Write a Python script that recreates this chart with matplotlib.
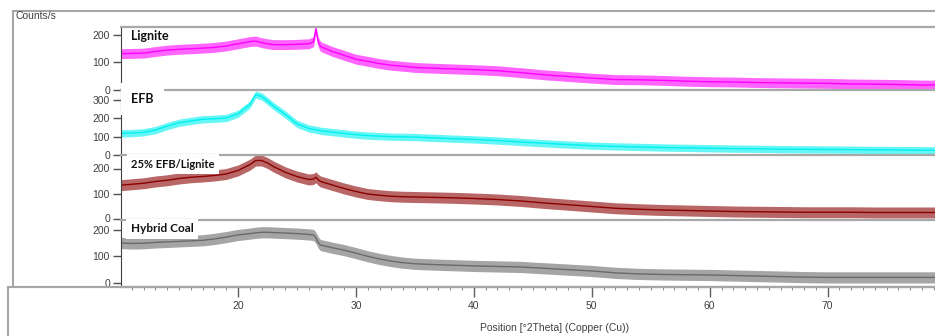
import matplotlib
matplotlib.use("Agg")
import matplotlib.pyplot as plt
from matplotlib.patches import Rectangle

# diffraction angle (deg 2theta), shared by all four patterns
two_theta = [10, 11, 12, 13, 14, 15, 16, 17, 18, 19, 20, 21, 21.5, 22, 22.5, 23, 24, 25, 26,
             26.4, 26.6, 26.8, 27, 28, 29, 30, 31, 32, 33, 34, 35, 36, 38, 40, 42, 44, 46, 48,
             50, 52, 54, 56, 58, 60, 62, 64, 66, 68, 70, 72, 74, 76, 78, 80]

# counts/s (middle of the noisy trace)
lignite = [132, 133, 134, 140, 145, 148, 150, 152, 155, 160, 168, 176, 178, 172, 168, 165, 165, 166, 168,
           175, 222, 175, 158, 140, 126, 112, 104, 96, 90, 86, 82, 80, 77, 74, 70, 63, 55, 49,
           43, 38, 37, 35, 32, 30, 29, 27, 26, 25, 24, 22, 21, 20, 18, 18]
efb = [118, 120, 124, 136, 158, 176, 186, 195, 198, 202, 225, 275, 330, 320, 295, 268, 222, 170, 145,
       140, 138, 135, 132, 125, 118, 111, 106, 103, 100, 99, 98, 95, 90, 85, 79, 71, 64, 57,
       51, 47, 44, 41, 39, 37, 35, 34, 32, 31, 30, 29, 28, 27, 26, 25]
blend25 = [133, 137, 141, 148, 153, 160, 165, 168, 172, 178, 192, 215, 232, 232, 222, 208, 185, 168, 156,
           158, 165, 155, 148, 134, 120, 108, 98, 93, 89, 87, 86, 85, 83, 80, 76, 70, 62, 55,
           48, 41, 37, 34, 32, 30, 28, 27, 26, 25, 25, 25, 24, 24, 24, 24]
hybrid = [150, 148, 149, 152, 154, 156, 158, 160, 165, 172, 180, 185, 188, 190, 190, 189, 187, 185, 182,
          180, 170, 152, 142, 132, 123, 112, 100, 90, 82, 76, 72, 70, 67, 64, 62, 60, 55, 50,
          45, 38, 34, 32, 31, 30, 28, 26, 24, 22, 21, 21, 21, 21, 21, 21]

# half thickness of the noise band (counts/s), per pattern
spread = [18, 20, 22, 21]

names = ["Lignite", "EFB", "25% EFB/Lignite", "Hybrid Coal"]
colors = ["#ff00ff", "#00f0f0", "#8b0000", "#6a6a6a"]
ylims = [(0, 229), (0, 355), (-6, 254), (-15, 236)]
yticks = [[0, 100, 200], [0, 100, 200, 300], [0, 100, 200], [0, 100, 200]]
xticks = [20, 30, 40, 50, 60, 70]

W, H = 935, 336
fig = plt.figure(figsize=(W / 100, H / 100), dpi=100)

def rect(x0, y0, x1, y1):
    return [x0 / W, 1 - y1 / H, (x1 - x0) / W, (y1 - y0) / H]

# outer frames
fig.add_artist(Rectangle((13 / W, 1 - 287 / H), (W + 5 - 13) / W, 276 / H, transform=fig.transFigure,
                         fill=False, ec="#a6a6a6", lw=1.5))
fig.add_artist(Rectangle((8 / W, -0.05), (W + 5 - 8) / W, (336 - 287) / H + 0.05, transform=fig.transFigure,
                         fill=False, ec="#a6a6a6", lw=1.5))
fig.text(16 / W, 1 - 16 / H, "Counts/s", fontsize=7.5, color="#404040", family="Liberation Sans", va="center")

bounds = [(27, 90), (90, 155), (155, 220), (220, 287)]
series = [lignite, efb, blend25, hybrid]
label_pad = [0, 0.8, 0.4, 0.4]
label_size = [9, 9, 8, 8.5]

for i in range(4):
    ax = fig.add_axes(rect(121, bounds[i][0], W, bounds[i][1]))
    y = series[i]
    lo = [v - spread[i] for v in y]
    hi = [v + spread[i] for v in y]
    ax.fill_between(two_theta, lo, hi, color=colors[i], alpha=0.6, lw=0)
    ax.plot(two_theta, y, color=colors[i], lw=1.0)
    ax.set_xlim(10.08, 79.1)
    ax.set_ylim(*ylims[i])
    ax.set_yticks(yticks[i])
    ax.tick_params(axis="y", direction="out", length=6, width=1, color="#505050",
                   labelsize=7.5, labelcolor="#404040", pad=2)
    for t in ax.get_yticklabels():
        t.set_family("Liberation Sans")
    ax.spines["right"].set_visible(False)
    ax.spines["left"].set_color("#404040")
    ax.spines["top"].set_color("#a8a8a8")
    ax.spines["top"].set_linewidth(1.6)
    if i < 3:
        ax.spines["bottom"].set_visible(False)
        ax.set_xticks([])
    else:
        ax.spines["bottom"].set_color("#a8a8a8")
        ax.spines["bottom"].set_linewidth(1.6)
        ax.set_xticks(xticks)
        ax.set_xticks(range(11, 80), minor=True)
        ax.tick_params(axis="x", which="major", direction="out", length=7, width=1, color="#606060",
                       labelsize=7.5, labelcolor="#404040", pad=3)
        ax.tick_params(axis="x", which="minor", direction="out", length=2.5, width=0.8, color="#909090")
        for t in ax.get_xticklabels():
            t.set_family("Liberation Sans")
    ax.patch.set_alpha(0)
    box = None
    if label_pad[i] > 0:
        box = dict(boxstyle="square,pad=%.1f" % label_pad[i], fc="white", ec="none")
    ax.text(10 / (W - 121), 1 - 9 / (bounds[i][1] - bounds[i][0]), names[i], transform=ax.transAxes,
            fontsize=label_size[i], fontweight="bold", family="Lato", color="#111111",
            va="center", ha="left", zorder=5, bbox=box)

fig.text(555 / W, 1 - 328 / H, "Position [\u00b02Theta] (Copper (Cu))", fontsize=7.5, color="#404040",
         family="Liberation Sans", ha="center", va="center")

fig.savefig("out.png", dpi=100)
